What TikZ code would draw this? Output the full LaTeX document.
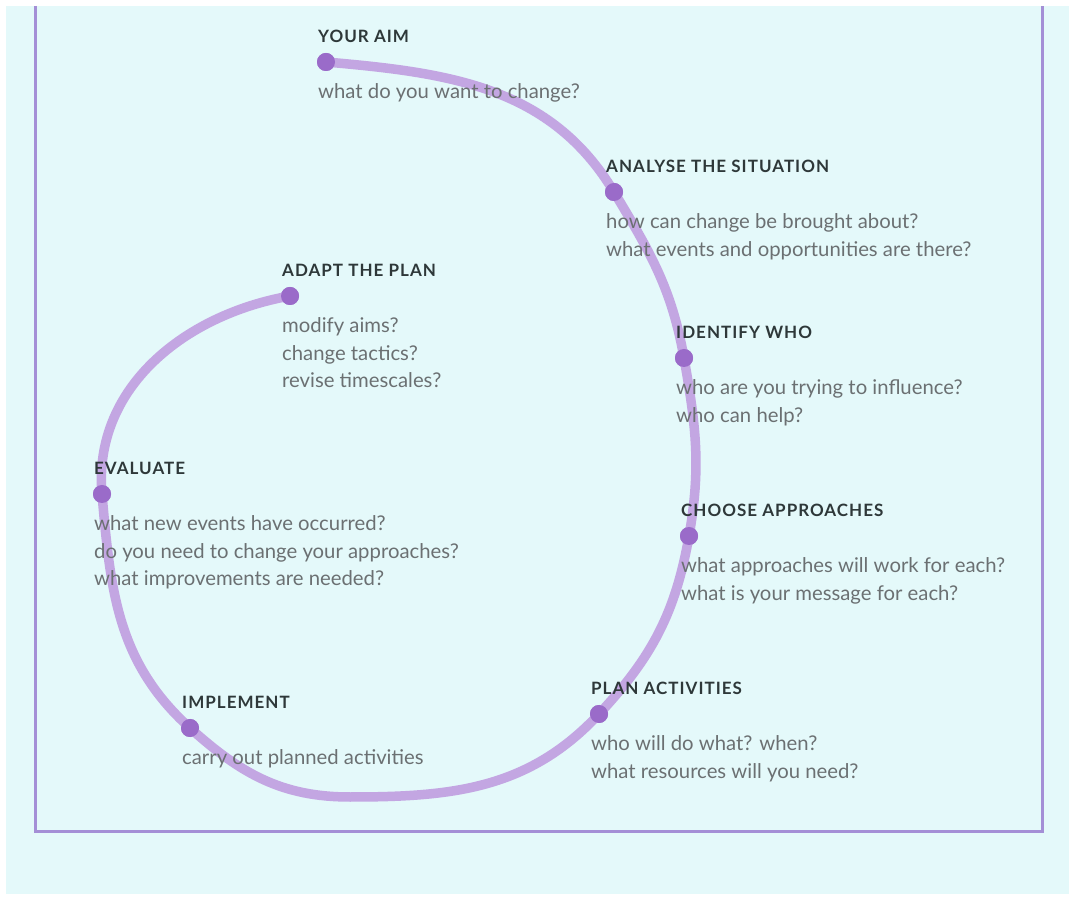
\documentclass[tikz,border=0pt]{standalone}
\usepackage{fontspec}
\setmainfont{Lato}
\usetikzlibrary{positioning}
\definecolor{paper}{HTML}{E4F9FA}
\definecolor{framec}{HTML}{A48FD6}
\definecolor{spiralc}{HTML}{C3A6E2}
\definecolor{dotc}{HTML}{9A6BC9}
\definecolor{headc}{HTML}{2E3839}
\definecolor{bodyc}{HTML}{6B7072}

\begin{document}
\begin{tikzpicture}[x=1pt, y=1pt,
      stop/.style={circle, fill=dotc, inner sep=0pt, minimum size=18pt},
      head/.style={anchor=base west, inner sep=0pt, text=headc,
        font=\fontsize{17}{20}\selectfont\bfseries\addfontfeatures{LetterSpace=6}},
      body/.style={inner sep=0pt, align=left, text=bodyc,
        font=\fontsize{20.3}{27.5}\selectfont},
      spiral/.style={line width=9.5pt, spiralc, line cap=round},
      frame/.style={line width=3pt, framec}
    ]
    \useasboundingbox (0,0) rectangle (1073,897);
    \fill[paper] (6,3) rectangle (1069,891);
    \coordinate (frameTL) at (35,891);
    \coordinate (frameBR) at (1042,66);
    \coordinate (frameTR) at (1042,891);
    \draw[frame] (frameTL) |- (frameBR) -- (frameTR);

    % stops along the spiral
    \node[stop] (aim) at (326,835) {};
    \node[stop] (analyse) at (614,705) {};
    \node[stop] (identify) at (684,539) {};
    \node[stop] (choose) at (689,361) {};
    \node[stop] (plan) at (599,183) {};
    \coordinate (bottom) at (350,100);
    \node[stop] (implement) at (190,169) {};
    \node[stop] (evaluate) at (102,403) {};
    \node[stop] (adapt) at (290,601) {};

    \draw[spiral] (aim.center) to[out=-5, in=121] (analyse.center)
      to[out=-59, in=100] (identify.center)
      to[out=-80, in=80] (choose.center)
      to[out=-100, in=47] (plan.center)
      to[out=-133, in=0] (bottom)
      to[out=180, in=-42] (implement.center)
      to[out=138, in=-85] (evaluate.center)
      to[out=95, in=190] (adapt.center);
    \foreach \s in {aim, analyse, identify, choose, plan, implement, evaluate, adapt}
      \fill[dotc] (\s) circle[radius=9pt];

    % headings and questions
    \node[head] (aimT) at ([xshift=-8pt, yshift=19pt]aim.center) {YOUR AIM};
    \node[body, below=40.5pt of aimT.base west, anchor=north west] (aimQ)
      {what do you want to change?};
    \node[head] (analyseT) at ([xshift=-8pt, yshift=19pt]analyse.center)
      {ANALYSE THE SITUATION};
    \node[body, below=40.5pt of analyseT.base west, anchor=north west] (analyseQ)
      {how can change be brought about?\\what events and opportunities are there?};
    \node[head] (identifyT) at ([xshift=-8pt, yshift=19pt]identify.center)
      {IDENTIFY WHO};
    \node[body, below=40.5pt of identifyT.base west, anchor=north west] (identifyQ)
      {who are you trying to influence?\\who can help?};
    \node[head] (chooseT) at ([xshift=-8pt, yshift=19pt]choose.center)
      {CHOOSE APPROACHES};
    \node[body, below=40.5pt of chooseT.base west, anchor=north west] (chooseQ)
      {what approaches will work for each?\\what is your message for each?};
    \node[head] (planT) at ([xshift=-8pt, yshift=19pt]plan.center)
      {PLAN ACTIVITIES};
    \node[body, below=40.5pt of planT.base west, anchor=north west] (planQ)
      {who will do what? when?\\what resources will you need?};
    \node[head] (implementT) at ([xshift=-8pt, yshift=19pt]implement.center)
      {IMPLEMENT};
    \node[body, below=40.5pt of implementT.base west, anchor=north west] (implementQ)
      {carry out planned activities};
    \node[head] (evaluateT) at ([xshift=-8pt, yshift=19pt]evaluate.center)
      {EVALUATE};
    \node[body, below=40.5pt of evaluateT.base west, anchor=north west] (evaluateQ)
      {what new events have occurred?\\do you need to change your approaches?\\what improvements are needed?};
    \node[head] (adaptT) at ([xshift=-8pt, yshift=19pt]adapt.center)
      {ADAPT THE PLAN};
    \node[body, below=40.5pt of adaptT.base west, anchor=north west] (adaptQ)
      {modify aims?\\change tactics?\\revise timescales?};
  \end{tikzpicture}
\end{document}
